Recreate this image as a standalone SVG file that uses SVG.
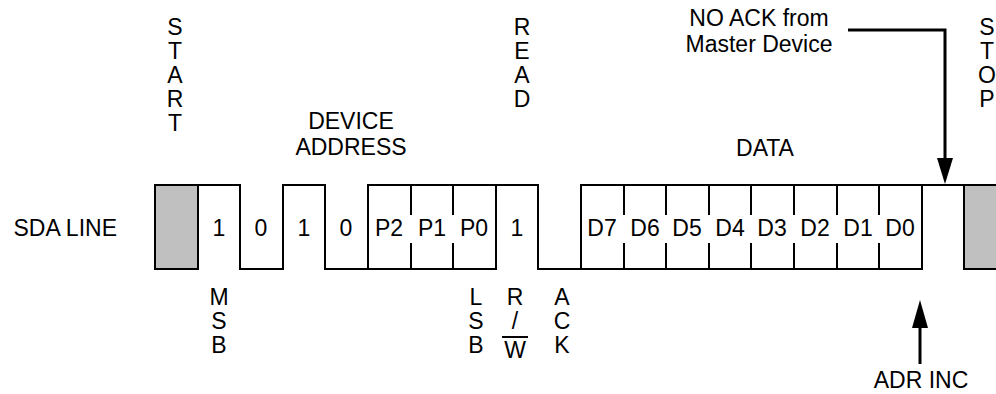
<svg xmlns="http://www.w3.org/2000/svg" width="996" height="394" viewBox="0 0 996 394">
<style>
text{font-family:"Liberation Sans",Arial,sans-serif;font-size:23px;fill:#000}
.w{fill:none;stroke:#000;stroke-width:2}
.g{fill:#c0c0c0;stroke:#000;stroke-width:2}
.a{fill:none;stroke:#000;stroke-width:3}
</style>
<rect width="996" height="394" fill="#fff"/>
<g id="waveform">
<rect class="g" x="155" y="185" width="43" height="84"/>
<rect class="g" x="964" y="185" width="40" height="84"/>
<path class="w" d="M198,185 H240 V269 H283 V185 H325 V269 H496 V185 M368,269 V185 H538 V269 H922 V185 M581,269 V185 H964"/>
<path class="w" d="M411,185 V215 M411,243 V269 M453,185 V215 M453,243 V269 M624,185 V215 M624,243 V269 M666,185 V215 M666,243 V269 M709,185 V215 M709,243 V269 M751,185 V215 M751,243 V269 M794,185 V215 M794,243 V269 M837,185 V215 M837,243 V269 M879,185 V215 M879,243 V269"/>
</g>
<g id="bit-labels" text-anchor="middle">
<text x="219" y="236">1</text>
<text x="261" y="236">0</text>
<text x="304" y="236">1</text>
<text x="346" y="236">0</text>
<text x="389" y="236">P2</text>
<text x="432" y="236">P1</text>
<text x="474" y="236">P0</text>
<text x="517" y="236">1</text>
<text x="602" y="236">D7</text>
<text x="645" y="236">D6</text>
<text x="687" y="236">D5</text>
<text x="730" y="236">D4</text>
<text x="772" y="236">D3</text>
<text x="815" y="236">D2</text>
<text x="858" y="236">D1</text>
<text x="900" y="236">D0</text>
</g>
<g id="sda-label"><text x="117" y="236" text-anchor="end">SDA LINE</text></g>
<g id="start" text-anchor="middle">
<text x="175" y="35">S</text><text x="175" y="59">T</text><text x="175" y="83">A</text><text x="175" y="107">R</text><text x="175" y="131">T</text>
</g>
<g id="read" text-anchor="middle">
<text x="522" y="35">R</text><text x="522" y="59">E</text><text x="522" y="83">A</text><text x="522" y="107">D</text>
</g>
<g id="stop" text-anchor="middle">
<text x="987" y="35">S</text><text x="987" y="59">T</text><text x="987" y="83">O</text><text x="987" y="107">P</text>
</g>
<g id="device-address" text-anchor="middle">
<text x="351" y="129">DEVICE</text><text x="351" y="155">ADDRESS</text>
</g>
<g id="data"><text x="765" y="156" text-anchor="middle">DATA</text></g>
<g id="no-ack" text-anchor="middle">
<text x="759" y="26">NO ACK from</text><text x="759" y="52">Master Device</text>
</g>
<g id="msb" text-anchor="middle">
<text x="219" y="305">M</text><text x="219" y="329">S</text><text x="219" y="353">B</text>
</g>
<g id="lsb" text-anchor="middle">
<text x="476" y="305">L</text><text x="476" y="329">S</text><text x="476" y="353">B</text>
</g>
<g id="rw" text-anchor="middle">
<text x="515" y="305">R</text><text x="515" y="329">/</text><text x="515" y="358">W</text>
<line x1="502" y1="337" x2="528" y2="337" stroke="#000" stroke-width="2"/>
</g>
<g id="ack" text-anchor="middle">
<text x="562" y="305">A</text><text x="562" y="329">C</text><text x="562" y="353">K</text>
</g>
<g id="adr-inc"><text x="921" y="388" text-anchor="middle">ADR INC</text></g>
<g id="connectors">
<polyline class="a" points="848,30 945,30 945,160"/>
<polygon points="937,158 953,158 945,184" fill="#000"/>
<line class="a" x1="920" y1="364" x2="920" y2="326"/>
<polygon points="912,328 928,328 920,300" fill="#000"/>
</g>
</svg>
